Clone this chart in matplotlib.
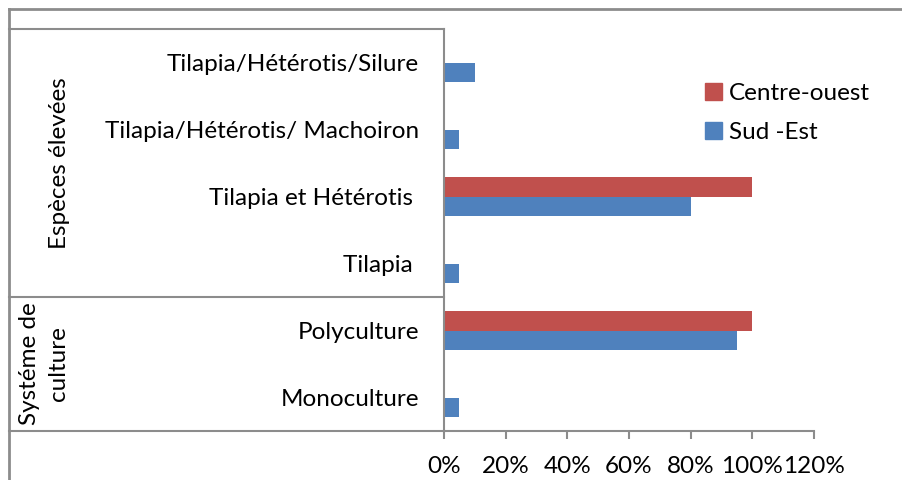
#horizontal bar chart: Sud-Est vs Centre-ouest, systeme de culture et especes elevees

import matplotlib.pyplot as plt
from matplotlib.patches import Patch
from matplotlib.lines import Line2D
from matplotlib.ticker import FuncFormatter
import numpy as np

plt.rcParams['font.family'] = ['Lato', 'DejaVu Sans']

categories = ["Monoculture", "Polyculture", "Tilapia ", "Tilapia et Hétérotis ",
              "Tilapia/Hétérotis/ Machoiron", "Tilapia/Hétérotis/Silure"]
sud_est = [0.05, 0.95, 0.05, 0.80, 0.05, 0.10]
centre_ouest = [0, 1.00, 0, 1.00, 0, 0]
groups = ["Systéme de\nculture", "Espèces élevées"]
xticks = [0, 0.2, 0.4, 0.6, 0.8, 1.0, 1.2]

red = "#C0504D"
blue = "#4F81BD"
grey = "#8C8C8C"
fs = 17.5

fig = plt.figure(figsize=(9.02, 4.8), dpi=100)
ax = fig.add_axes([444/902, 49/480, 370/902, 402/480])

y = np.arange(len(categories))
h = 0.285
ax.barh(y - h/2, sud_est, height=h, color=blue)
ax.barh(y + h/2, centre_ouest, height=h, color=red)

ax.set_xlim(0, 1.2)
ax.set_ylim(-0.5, 5.5)
ax.set_xticks(xticks)
ax.xaxis.set_major_formatter(FuncFormatter(lambda v, p: "%d%%" % round(v*100)))
ax.tick_params(axis='x', length=6, width=1.5, color=grey, labelsize=fs, pad=12)
ax.set_yticks(y)
ax.set_yticklabels(categories, fontsize=fs)
ax.tick_params(axis='y', length=0, pad=18)
for s in ["top", "right"]:
    ax.spines[s].set_visible(False)
for s in ["left", "bottom"]:
    ax.spines[s].set_color(grey)
    ax.spines[s].set_linewidth(1.5)

# category table lines on the left
tr = ax.get_yaxis_transform()
x0 = (9 - 444) / 370
for yy in [5.5, 1.5, -0.5]:
    ax.add_line(Line2D([x0, 0], [yy, yy], transform=tr, color=grey, lw=1.5, clip_on=False))

ax.text((60 - 444) / 370, 3.5, groups[1], transform=tr, rotation=90,
        ha='center', va='center', fontsize=fs)
ax.text((44 - 444) / 370, 0.5, groups[0], transform=tr, rotation=90,
        ha='center', va='center', fontsize=fs, linespacing=1.5)

# outer frame
fig.add_artist(Line2D([9/902, 1], [1 - 8.5/480, 1 - 8.5/480], color=grey, lw=2))
fig.add_artist(Line2D([9/902, 9/902], [0, 1 - 8.5/480], color=grey, lw=2))

handles = [Patch(color=red, label="Centre-ouest"), Patch(color=blue, label="Sud -Est")]
fig.legend(handles=handles, loc='upper left', bbox_to_anchor=(683/902, 1 - 61/480),
           frameon=False, fontsize=fs, handlelength=0.7, handleheight=0.7,
           handletextpad=0.3, labelspacing=0.75)

fig.savefig("out.png", dpi=100)
